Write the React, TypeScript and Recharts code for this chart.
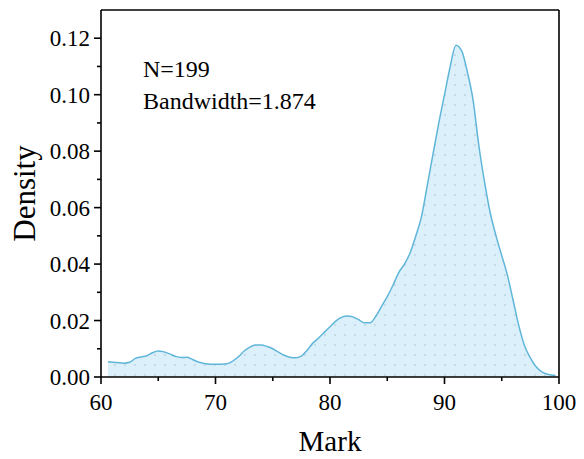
import React from 'react';
import { ComposedChart, Area, XAxis, YAxis, Label, ReferenceLine } from 'recharts';

// density estimate
const marks = [
  60.6, 61, 62, 62.5, 63, 63.5, 64, 64.5, 65, 65.5, 66, 66.5, 67, 67.5, 68, 68.5, 69, 70, 71, 72,
  72.5, 73, 73.5, 74, 74.5, 75, 75.5, 76, 76.5, 77, 77.5, 78, 78.5, 79, 79.5, 80, 80.5, 81, 81.5,
  82, 82.5, 83, 83.5, 84, 84.5, 85, 85.5, 86, 86.5, 87, 87.5, 88, 88.5, 89, 89.5, 90, 90.5, 91,
  91.5, 92, 92.5, 93, 93.5, 94, 94.5, 95, 95.5, 96, 96.5, 97, 97.5, 98, 98.5, 99, 99.7,
];
const densities = [
  0.0054, 0.0052, 0.0049, 0.0052, 0.0066, 0.0071, 0.0075, 0.0086, 0.0092, 0.0089, 0.0082, 0.0073,
  0.0069, 0.007, 0.0062, 0.0053, 0.0048, 0.0045, 0.0047, 0.0072, 0.0092, 0.0106, 0.0113, 0.0113,
  0.0108, 0.01, 0.0088, 0.0077, 0.007, 0.0068, 0.0074, 0.0095, 0.012, 0.0138, 0.0158, 0.0178,
  0.0198, 0.0211, 0.0216, 0.0213, 0.0203, 0.0192, 0.0192, 0.0215, 0.025, 0.0285, 0.0325, 0.037,
  0.04, 0.044, 0.05, 0.057, 0.068, 0.079, 0.09, 0.1, 0.11, 0.1175, 0.1155, 0.108, 0.098, 0.082,
  0.069, 0.058, 0.05, 0.043, 0.036, 0.027, 0.018, 0.011, 0.0068, 0.0036, 0.0018, 0.001, 0.0005,
];
const xTicks = [60, 65, 70, 75, 80, 85, 90, 95, 100];
const yTicks = [0, 0.01, 0.02, 0.03, 0.04, 0.05, 0.06, 0.07, 0.08, 0.09, 0.1, 0.11, 0.12];
const notes = ['N=199', 'Bandwidth=1.874'];

const data = marks.map((x, i) => ({ x, d: densities[i] }));

const FONT = '"Liberation Serif", "Times New Roman", serif';
const TICK_SIZE = 7;
const TICK_MARGIN = 5;

const YTick = (props: any) => {
  const { x, y, payload, index } = props;
  const axisX = x + TICK_SIZE + TICK_MARGIN;
  const major = index % 2 === 0;
  return (
    <g>
      <line x1={axisX - (major ? 7 : 4)} x2={axisX} y1={y} y2={y} stroke="#000" strokeWidth={1.6} />
      {major && (
        <text x={x + 1} y={y} dy={8} textAnchor="end" fontFamily={FONT} fontSize={23} fill="#000">
          {payload.value.toFixed(2)}
        </text>
      )}
    </g>
  );
};

const XTick = (props: any) => {
  const { x, y, payload, index } = props;
  const axisY = y - TICK_SIZE - TICK_MARGIN;
  const major = index % 2 === 0;
  return (
    <g>
      <line x1={x} x2={x} y1={axisY} y2={axisY + (major ? 7 : 4)} stroke="#000" strokeWidth={1.6} />
      {major && (
        <text x={x} y={axisY} dy={33} textAnchor="middle" fontFamily={FONT} fontSize={23} fill="#000">
          {payload.value}
        </text>
      )}
    </g>
  );
};

export default function App() {
  return (
    <div style={{ position: 'absolute', left: 0, top: 0, background: '#fff' }}>
      <ComposedChart
        width={584}
        height={459}
        data={data}
        margin={{ top: 10, right: 25, bottom: 0, left: 0 }}
      >
        <defs>
          <pattern id="dots" width="10" height="10" patternUnits="userSpaceOnUse">
            <rect width="10" height="10" fill="#dcf0fb" />
            <circle cx="5" cy="5" r="0.9" fill="#b9cfdb" />
          </pattern>
        </defs>
        <XAxis
          xAxisId="b"
          type="number"
          dataKey="x"
          domain={[60, 100]}
          ticks={xTicks}
          interval={0}
          tick={<XTick />}
          tickLine={false}
          tickSize={TICK_SIZE}
          tickMargin={TICK_MARGIN}
          axisLine={{ stroke: '#000', strokeWidth: 1.6 }}
          height={82}
        >
          <Label
            value="Mark"
            position="insideBottom"
            offset={8}
            style={{ fontFamily: FONT, fontSize: 29, fill: '#000' }}
          />
        </XAxis>
        <YAxis
          yAxisId="l"
          type="number"
          domain={[0, 0.13]}
          ticks={yTicks}
          interval={0}
          tick={<YTick />}
          tickLine={false}
          tickSize={TICK_SIZE}
          tickMargin={TICK_MARGIN}
          axisLine={{ stroke: '#000', strokeWidth: 1.6 }}
          width={101}
        >
          <Label
            value="Density"
            angle={-90}
            position="insideLeft"
            offset={24}
            style={{ fontFamily: FONT, fontSize: 31, fill: '#000', textAnchor: 'middle' }}
          />
        </YAxis>
        <Area
          xAxisId="b"
          yAxisId="l"
          type="monotone"
          dataKey="d"
          stroke="#5fb6d9"
          strokeWidth={1.5}
          fill="url(#dots)"
          fillOpacity={1}
          isAnimationActive={false}
          dot={false}
          activeDot={false}
        />
        <ReferenceLine xAxisId="b" yAxisId="l" y={0.13} stroke="#000" strokeWidth={1.6} />
        <ReferenceLine xAxisId="b" yAxisId="l" x={100} stroke="#000" strokeWidth={1.6} />
        <text x={143} y={77} fontFamily={FONT} fontSize={24} fill="#000">
          {notes[0]}
        </text>
        <text x={143} y={109} fontFamily={FONT} fontSize={24} fill="#000">
          {notes[1]}
        </text>
      </ComposedChart>
    </div>
  );
}
